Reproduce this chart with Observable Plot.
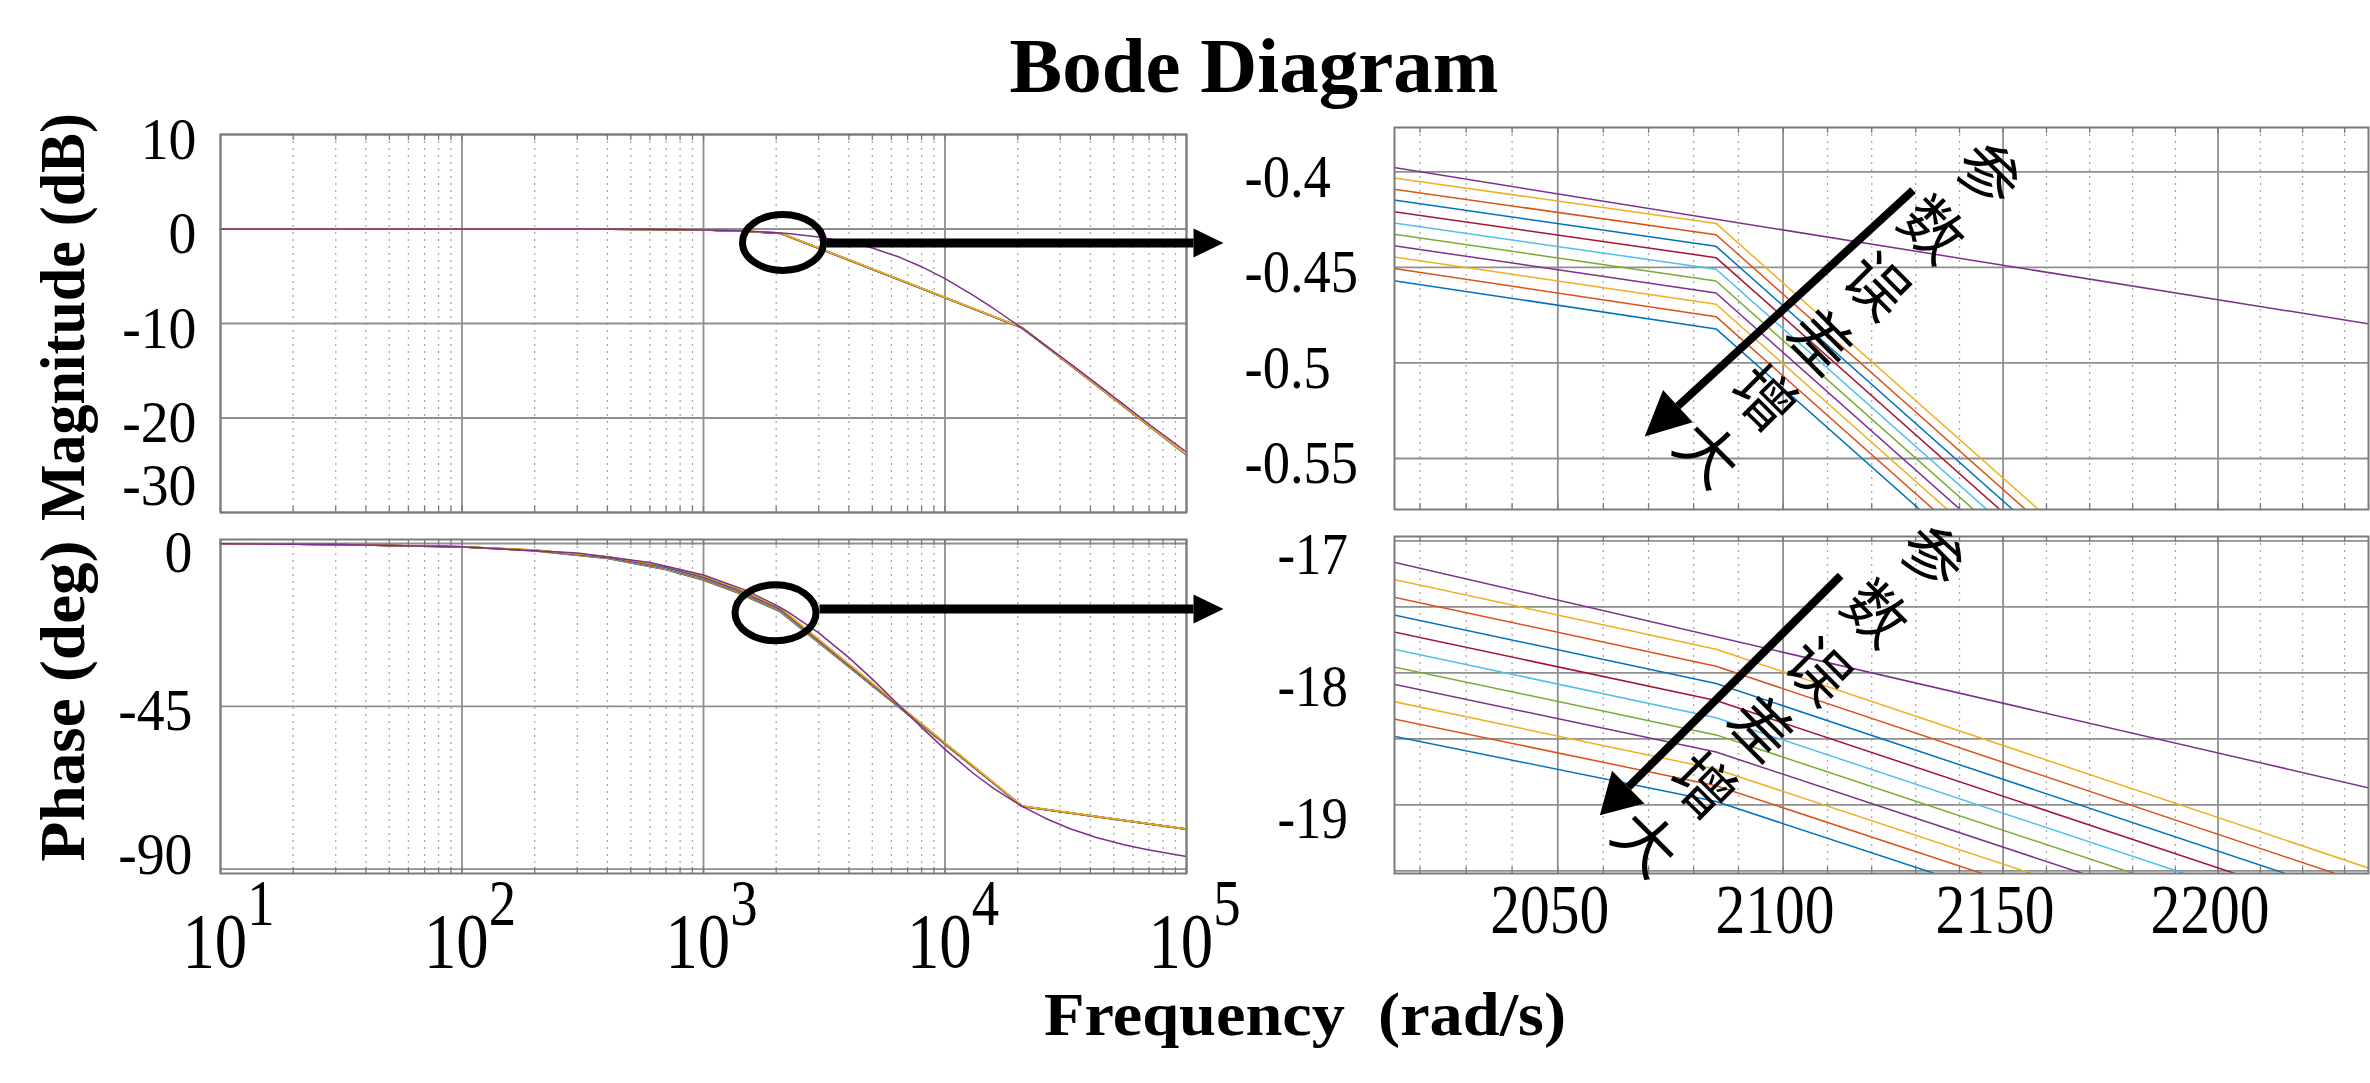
<!DOCTYPE html>
<html>
<head>
<meta charset="utf-8">
<script src="https://cdn.jsdelivr.net/npm/d3@7"></script>
<script src="https://cdn.jsdelivr.net/npm/@observablehq/plot@0.6"></script>
<style>
html, body { margin: 0; padding: 0; background: #fff; }
#fig { position: relative; width: 2370px; height: 1083px; overflow: hidden; background: #fff; }
.panel { position: absolute; }
.panel svg { overflow: visible; }
#overlay { position: absolute; left: 0; top: 0; pointer-events: none; }
</style>
</head>
<body>
<div id="fig"></div>
<script>
// ---------------- DATA ----------------
// sample frequencies (rad/s) of the ten coarse responses
const sampleFreq = [10, 30, 100, 200, 400, 700, 1000, 1400, 2014, 2085, 20880, 100000];

// magnitude (dB) of the ten responses, series 1 (largest error) .. series 10
const kinkMag = [
  [0, 0, -0.001, -0.005, -0.019, -0.058, -0.119, -0.229, -0.4568, -0.4822, -10.48, -23.92],
  [0, 0, -0.001, -0.005, -0.019, -0.058, -0.117, -0.226, -0.4505, -0.4758, -10.47, -23.92],
  [0, 0, -0.001, -0.005, -0.019, -0.057, -0.115, -0.222, -0.4444, -0.4693, -10.47, -23.91],
  [0, 0, -0.001, -0.005, -0.018, -0.056, -0.114, -0.219, -0.4385, -0.4634, -10.46, -23.91],
  [0, 0, -0.001, -0.004, -0.018, -0.055, -0.112, -0.216, -0.4325, -0.4571, -10.46, -23.90],
  [0, 0, -0.001, -0.004, -0.018, -0.054, -0.110, -0.212, -0.4266, -0.4510, -10.45, -23.90],
  [0, 0, -0.001, -0.004, -0.017, -0.053, -0.108, -0.209, -0.4207, -0.4449, -10.45, -23.89],
  [0, 0, -0.001, -0.004, -0.017, -0.052, -0.106, -0.205, -0.4146, -0.4390, -10.44, -23.89],
  [0, 0, -0.001, -0.004, -0.017, -0.051, -0.104, -0.202, -0.4090, -0.4329, -10.44, -23.88],
  [0, 0, -0.001, -0.004, -0.017, -0.051, -0.103, -0.199, -0.4031, -0.4270, -10.43, -23.88]
];

// phase (deg) of the ten responses
const kinkPhase = [
  [-0.10, -0.30, -1.00, -2.05, -4.15, -7.25, -10.20, -13.80, -18.477, -18.975, -72.70, -78.95],
  [-0.10, -0.30, -0.99, -2.02, -4.09, -7.14, -10.06, -13.66, -18.346, -18.855, -72.68, -78.95],
  [-0.10, -0.29, -0.98, -1.99, -4.03, -7.03, -9.92, -13.52, -18.215, -18.730, -72.67, -78.94],
  [-0.10, -0.29, -0.96, -1.96, -3.97, -6.92, -9.78, -13.38, -18.083, -18.600, -72.65, -78.94],
  [-0.09, -0.28, -0.95, -1.93, -3.91, -6.81, -9.64, -13.24, -17.952, -18.470, -72.63, -78.93],
  [-0.09, -0.28, -0.93, -1.90, -3.85, -6.70, -9.50, -13.10, -17.818, -18.340, -72.62, -78.93],
  [-0.09, -0.27, -0.92, -1.87, -3.79, -6.59, -9.36, -12.96, -17.687, -18.210, -72.60, -78.92],
  [-0.09, -0.27, -0.91, -1.84, -3.73, -6.48, -9.22, -12.82, -17.558, -18.080, -72.58, -78.92],
  [-0.09, -0.26, -0.89, -1.81, -3.67, -6.37, -9.08, -12.68, -17.424, -17.950, -72.57, -78.91],
  [-0.08, -0.26, -0.88, -1.78, -3.61, -6.26, -8.94, -12.54, -17.290, -17.821, -72.55, -78.90]
];

// the smooth (finely sampled) purple response
const idealFreq  = [10, 30, 100, 300, 600, 1000, 1500, 2014, 2237, 3000, 4000, 5000, 6500, 8000, 10000, 13000, 16000, 20880, 26000, 33000, 42000, 55000, 70000, 100000];
const idealMag   = [0, 0, -0.001, -0.009, -0.037, -0.101, -0.224, -0.3976, -0.480, -0.834, -1.388, -2.008, -2.997, -3.988, -5.253, -6.968, -8.465, -10.51, -12.28, -14.25, -16.28, -18.58, -20.66, -23.60];
const idealPhase = [-0.09, -0.26, -0.88, -2.63, -5.26, -8.72, -12.96, -17.159, -18.88, -24.71, -31.53, -37.49, -44.91, -50.82, -56.89, -63.36, -67.83, -72.66, -75.92, -78.82, -81.18, -83.24, -84.68, -86.50];

const seriesColors = ["#0072BD", "#D95319", "#EDB120", "#7E2F8E", "#77AC30", "#4DBEEE", "#A2142F", "#0072BD", "#D95319", "#EDB120"];
const idealColor = "#7E2F8E";

// axis ticks
const decadeTicks = [10, 100, 1000, 10000, 100000];
const decadeMinor = [20, 30, 40, 50, 60, 70, 80, 90, 200, 300, 400, 500, 600, 700, 800, 900,
  2000, 3000, 4000, 5000, 6000, 7000, 8000, 9000, 20000, 30000, 40000, 50000, 60000, 70000, 80000, 90000];
const zoomTicks = [2050, 2100, 2150, 2200];
const zoomMinor = [2020, 2030, 2040, 2060, 2070, 2080, 2090, 2110, 2120, 2130, 2140, 2160, 2170, 2180, 2190, 2210, 2220, 2230];
const magTicks = [10, 0, -10, -20, -30];
const magTicksUpper = [10, 0, -10, -20];
const magTicksBottom = [-30];
const phaseTicks = [0, -45, -90];
const phaseTicksTop = [0];
const phaseTicksMid = [-45];
const phaseTicksBottom = [-90];
const zoomMagTicks = [-0.4, -0.45, -0.5, -0.55];
const zoomPhaseGrid = [-17, -17.5, -18, -18.5, -19, -19.5];
const zoomPhaseLabels = [-17, -18, -19];
const noteText = "参数误差增大";

// ---------------- helpers ----------------
const GRID = "#8f8f8f", MINOR = "#a8a8a8", FRAME = "#7a7a7a";

function kinkRows(vals) {
  const rows = [];
  vals.forEach((arr, s) => arr.forEach((v, i) => rows.push({s, f: sampleFreq[i], v, color: seriesColors[s]})));
  return rows;
}
function idealRows(vals) { return idealFreq.map((f, i) => ({f, v: vals[i]})); }

function headSymbol(len, half, angleDeg) {
  const a = angleDeg * Math.PI / 180, c = Math.cos(a), s = Math.sin(a);
  const pts = [[len, 0], [0, -half], [0, half]].map(([x, y]) => [x * c - y * s, x * s + y * c]);
  return {draw(ctx) { ctx.moveTo(pts[0][0], pts[0][1]); ctx.lineTo(pts[1][0], pts[1][1]); ctx.lineTo(pts[2][0], pts[2][1]); ctx.closePath(); }};
}
function ellipseSymbol(rx, ry) {
  const k = 0.5523;
  return {draw(ctx) {
    ctx.moveTo(rx, 0);
    ctx.bezierCurveTo(rx, ry * k, rx * k, ry, 0, ry);
    ctx.bezierCurveTo(-rx * k, ry, -rx, ry * k, -rx, 0);
    ctx.bezierCurveTo(-rx, -ry * k, -rx * k, -ry, 0, -ry);
    ctx.bezierCurveTo(rx * k, -ry, rx, -ry * k, rx, 0);
    ctx.closePath();
  }};
}

function yAxis(ticks, cfg, dy) {
  return Plot.axisY(ticks, {anchor: "left", tickSize: 0, tickPadding: cfg.yPad, textAnchor: cfg.yAnchor,
    fontSize: cfg.yFont, fontFamily: "Liberation Serif", tickFormat: d => String(d), dy, fill: "black"});
}

function panel(cfg) {
  const frameH = cfg.height - cfg.mT - cfg.mB;
  const allX = cfg.xMajor.concat(cfg.xMinor);
  const marks = [
    Plot.gridX(cfg.xMinor, {stroke: MINOR, strokeOpacity: 1, strokeWidth: 1.3, strokeDasharray: "2,5"}),
    Plot.gridX(cfg.xMajor, {stroke: GRID, strokeOpacity: 1, strokeWidth: 1.8}),
    Plot.gridY(cfg.yGrid, {stroke: GRID, strokeOpacity: 1, strokeWidth: 1.8}),
    Plot.tickX(allX, {x: d => d, insetTop: frameH - 6, stroke: FRAME, strokeWidth: 1.3}),
    Plot.tickX(allX, {x: d => d, insetBottom: frameH - 6, stroke: FRAME, strokeWidth: 1.3}),
    Plot.line(kinkRows(cfg.kink), {x: "f", y: "v", z: "s", stroke: "color", strokeWidth: 1.5, clip: cfg.clip}),
    Plot.line(idealRows(cfg.ideal), {x: "f", y: "v", stroke: idealColor, strokeWidth: 1.5, clip: cfg.clip}),
    Plot.frame({stroke: FRAME, strokeWidth: 2}),
    ...cfg.yLabelGroups.map(([ticks, dy]) => yAxis(ticks, cfg, dy)),
    ...(cfg.extra || [])
  ];
  if (cfg.xLabels) marks.push(Plot.axisX(cfg.xLabels, {anchor: "bottom", tickSize: 0, tickPadding: cfg.xPad,
    fontSize: cfg.xFont, fontFamily: "Liberation Serif", tickFormat: cfg.xFormat, dx: cfg.xDx || 0, fill: "black"}));
  const svg = Plot.plot({
    width: cfg.width, height: cfg.height,
    marginLeft: cfg.mL, marginRight: cfg.mR, marginTop: cfg.mT, marginBottom: cfg.mB,
    x: {type: "log", domain: cfg.xDomain, axis: null},
    y: {domain: cfg.yDomain, axis: null},
    color: {type: "identity"},
    style: {background: "transparent", overflow: "visible", fontFamily: "Liberation Serif"},
    marks
  });
  squeeze(svg, "y-axis tick label", cfg.ySqueeze);
  if (cfg.xLabels) {
    if (cfg.superscript) superscript(svg, cfg.supSize, cfg.supRise);
    squeeze(svg, "x-axis tick label", cfg.xSqueeze);
  }
  const div = document.createElement("div");
  div.className = "panel";
  div.style.left = cfg.left + "px"; div.style.top = cfg.top + "px";
  div.style.width = cfg.width + "px"; div.style.height = cfg.height + "px";
  div.appendChild(svg);
  document.getElementById("fig").appendChild(div);
}
function squeeze(svg, label, sx) {
  svg.querySelectorAll(`g[aria-label="${label}"] text`).forEach(t => {
    const tr = t.getAttribute("transform") || "";
    t.setAttribute("transform", tr + ` scale(${sx},1)`);
  });
}
function superscript(svg, size, rise) {
  svg.querySelectorAll(`g[aria-label="x-axis tick label"] text`).forEach(t => {
    const e = t.textContent;
    t.textContent = "";
    const b = document.createElementNS("http://www.w3.org/2000/svg", "tspan");
    b.textContent = "10";
    const s = document.createElementNS("http://www.w3.org/2000/svg", "tspan");
    s.textContent = e;
    s.setAttribute("dy", -rise);
    s.setAttribute("font-size", size);
    t.appendChild(b); t.appendChild(s);
  });
}

// ---------------- annotations (call-outs) ----------------
const callMag = {ef: 2134, ev: -1.42, v: -1.47, f1: 3231, f2: 106900};
const callPh = {ef: 1987, ev: -19.16, v: -18.13, f1: 3022, f2: 106900};
const ell = ellipseSymbol(40.5, 28);
const rightHead = headSymbol(30, 14.5, 0);
function callout(c) {
  return [
    Plot.link([c], {x1: "f1", x2: "f2", y1: "v", y2: "v", stroke: "black", strokeWidth: 9}),
    Plot.dot([c], {x: "f2", y: "v", symbol: rightHead, fill: "black", stroke: "none", r: 10}),
    Plot.dot([c], {x: "ef", y: "ev", symbol: ell, fill: "none", stroke: "black", strokeWidth: 7, r: 10})
  ];
}
const diagMag = {f1: 2129.4, v1: -0.4096, f2: 2076.5, v2: -0.5226, tf: 2115.2, tv: -0.4732};
const diagPh = {f1: 2112.97, v1: -17.263, f2: 2065.5, v2: -18.866, tf: 2102.0, tv: -18.184};
function diagonal(c, angle, len, half, lh) {
  return [
    Plot.link([c], {x1: "f1", y1: "v1", x2: "f2", y2: "v2", stroke: "black", strokeWidth: 8}),
    Plot.dot([c], {x: "f2", y: "v2", symbol: headSymbol(len, half, angle), fill: "black", stroke: "none", r: 10}),
    Plot.text([c], {x: "tf", y: "tv", text: () => noteText.split("").join("\n"), rotate: 45, lineHeight: lh,
      fontSize: 62, fontFamily: "Noto Sans CJK SC", fill: "black"})
  ];
}

// ---------------- panels ----------------
panel({ // overview magnitude
  left: 0, top: 100, width: 1240, height: 422, mL: 220, mR: 54, mT: 34, mB: 10,
  xDomain: [10, 1e5], yDomain: [-30, 10],
  xMajor: decadeTicks, xMinor: decadeMinor, yGrid: magTicks,
  yLabelGroups: [[magTicksUpper, 5], [magTicksBottom, -27]],
  kink: kinkMag, ideal: idealMag, clip: false,
  yPad: 24, yAnchor: "end", yFont: 60, ySqueeze: 0.93,
  extra: callout(callMag)
});
panel({ // overview phase
  left: 0, top: 520, width: 1240, height: 463, mL: 220, mR: 54, mT: 19, mB: 110,
  xDomain: [10, 1e5], yDomain: [-91.2, 1.1],
  xMajor: decadeTicks, xMinor: decadeMinor, yGrid: phaseTicks,
  yLabelGroups: [[phaseTicksTop, 9], [phaseTicksMid, 4], [phaseTicksBottom, -14]],
  kink: kinkPhase, ideal: idealPhase, clip: false,
  yPad: 28, yAnchor: "end", yFont: 60, ySqueeze: 0.93,
  xLabels: decadeTicks, xFormat: d => String(Math.round(Math.log10(d))), xPad: 38, xFont: 78, xSqueeze: 0.83, xDx: 8,
  superscript: true, supSize: 66, supRise: 42,
  extra: callout(callPh)
});
panel({ // zoomed magnitude
  left: 1240, top: 100, width: 1130, height: 419, mL: 154, mR: 2, mT: 27, mB: 10,
  xDomain: [2014.5, 2235.7], yDomain: [-0.5767, -0.3768],
  xMajor: zoomTicks, xMinor: zoomMinor, yGrid: zoomMagTicks,
  yLabelGroups: [[zoomMagTicks, 5]],
  kink: kinkMag, ideal: idealMag, clip: true,
  yPad: 150, yAnchor: "start", yFont: 62, ySqueeze: 0.88,
  extra: diagonal(diagMag, 137.5, 45, 22, 1.28)
});
panel({ // zoomed phase
  left: 1240, top: 520, width: 1130, height: 463, mL: 154, mR: 2, mT: 16, mB: 110,
  xDomain: [2014.5, 2235.7], yDomain: [-19.52, -16.967],
  xMajor: zoomTicks, xMinor: zoomMinor, yGrid: zoomPhaseGrid,
  yLabelGroups: [[zoomPhaseLabels, 14]],
  kink: kinkPhase, ideal: idealPhase, clip: true,
  yPad: 117, yAnchor: "start", yFont: 60, ySqueeze: 0.88,
  xLabels: zoomTicks, xFormat: d => String(d), xPad: 10, xFont: 70, xSqueeze: 0.85, xDx: -8,
  extra: diagonal(diagPh, 135.2, 40, 23, 1.31)
});

// ---------------- titles ----------------
const NS = "http://www.w3.org/2000/svg";
const ov = document.createElementNS(NS, "svg");
ov.setAttribute("id", "overlay"); ov.setAttribute("width", 2370); ov.setAttribute("height", 1083);
function addText(str, x, y, size, len, rot) {
  const t = document.createElementNS(NS, "text");
  t.textContent = str;
  t.setAttribute("font-family", "Liberation Serif");
  t.setAttribute("font-weight", "bold");
  t.setAttribute("font-size", size);
  t.setAttribute("text-anchor", "middle");
  t.setAttribute("textLength", len);
  t.setAttribute("lengthAdjust", "spacingAndGlyphs");
  t.setAttribute("transform", `translate(${x},${y})` + (rot ? ` rotate(${rot})` : ""));
  ov.appendChild(t);
}
addText("Bode Diagram", 1254, 92, 78, 489, 0);
addText("Frequency\u00a0\u00a0(rad/s)", 1305, 1035, 62, 522, 0);
addText("Magnitude (dB)", 84, 317, 64, 408, -90);
addText("Phase (deg)", 84, 701, 64, 321, -90);
document.getElementById("fig").appendChild(ov);
</script>
</body>
</html>
